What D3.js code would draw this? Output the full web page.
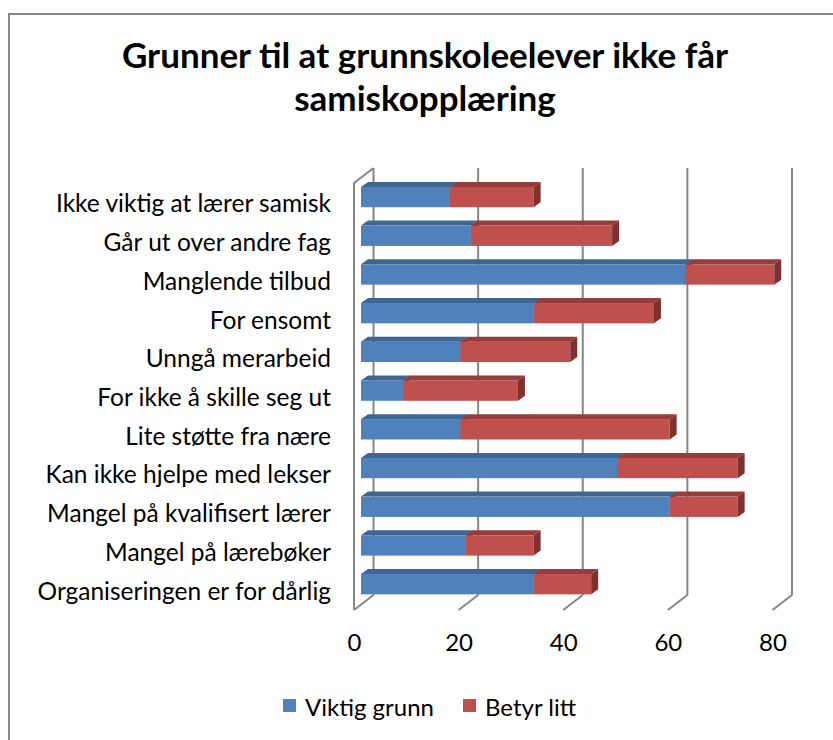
<!DOCTYPE html>
<html>
<head>
<meta charset="utf-8">
<script src="https://cdnjs.cloudflare.com/ajax/libs/d3/7.8.5/d3.min.js"></script>
<style>
  body { margin: 0; background: #fff; }
  svg { display: block; }
  text { font-family: Lato, "Open Sans", sans-serif; fill: #000; }
</style>
</head>
<body>
<script>
// data
var categories = [
  "Ikke viktig at lærer samisk",
  "Går ut over andre fag",
  "Manglende tilbud",
  "For ensomt",
  "Unngå merarbeid",
  "For ikke å skille seg ut",
  "Lite støtte fra nære",
  "Kan ikke hjelpe med lekser",
  "Mangel på kvalifisert lærer",
  "Mangel på lærebøker",
  "Organiseringen er for dårlig"
]
var viktig = [17, 21, 62, 33, 19, 8, 19, 49, 59, 20, 33]
var betyr  = [16, 27, 17, 23, 21, 22, 40, 23, 13, 13, 11]
var seriesNames = ["Viktig grunn", "Betyr litt"]
var xTicks = [0, 20, 40, 60, 80]

var W = 833, H = 740

var colors = {
  front: ["#4f81bd", "#c0504d"],
  top:   ["#3e6693", "#943d3b"],
  side:  ["#34557c", "#7d3230"]
}

var svg = d3.select("body").append("svg")
  .attr("width", W)
  .attr("height", H)

// outer border (only top and left edge show in the picture)
svg.append("rect")
  .attr("x", 9).attr("y", 14)
  .attr("width", W).attr("height", H)
  .attr("fill", "none")
  .attr("stroke", "#888")
  .attr("stroke-width", 2)

// title
var title = svg.append("text")
  .attr("text-anchor", "middle")
  .style("font-weight", "bold")
  .style("font-size", "35px")
title.append("tspan").attr("x", 425).attr("y", 68).text("Grunner til at grunnskoleelever ikke får")
title.append("tspan").attr("x", 425).attr("y", 111).text("samiskopplæring")

// 3d geometry: front plane + offsets to the back wall
var backDx = 19.5, backDy = -15
var barDx = 7, barDy = -5   // bar front face offset, and bar depth

var x = d3.scaleLinear().domain([0, 80]).range([354, 772.5])
var y = d3.scaleBand().domain(categories).range([183, 610])
  .paddingInner(0.43).paddingOuter(0.23)

var floorY = 610
var gridColor = "#868686"

// back wall gridlines
svg.append("g").selectAll("line").data(xTicks).enter().append("line")
  .attr("x1", function(d){ return x(d) + backDx })
  .attr("x2", function(d){ return x(d) + backDx })
  .attr("y1", 183 + backDy)
  .attr("y2", floorY + backDy)
  .attr("stroke", gridColor)
  .attr("stroke-width", 2)

// floor lines
svg.append("g").selectAll("line").data(xTicks).enter().append("line")
  .attr("x1", function(d){ return x(d) + backDx })
  .attr("y1", floorY + backDy)
  .attr("x2", function(d){ return x(d) })
  .attr("y2", floorY)
  .attr("stroke", gridColor)
  .attr("stroke-width", 2)

// left wall
svg.append("path")
  .attr("d", "M" + x(0) + "," + floorY + "L" + x(0) + ",183L" + (x(0) + backDx) + "," + (183 + backDy))
  .attr("fill", "none")
  .attr("stroke", gridColor)
  .attr("stroke-width", 2)

// stacked bars
var rows = categories.map(function(c, i){
  return [
    {cat: c, s: 0, x0: 0, x1: viktig[i]},
    {cat: c, s: 1, x0: viktig[i], x1: viktig[i] + betyr[i]}
  ]
})

function pts(a){ return a.map(function(p){ return p.join(",") }).join(" ") }

var bars = svg.append("g")
rows.forEach(function(segs){
  segs.forEach(function(d){
    var fx0 = x(d.x0) + barDx, fx1 = x(d.x1) + barDx
    var fy = y(d.cat) + barDy, h = y.bandwidth() * 0.92
    var g = bars.append("g")
    // front face
    g.append("rect")
      .attr("x", fx0).attr("y", fy)
      .attr("width", fx1 - fx0).attr("height", h)
      .attr("fill", colors.front[d.s])
    // top face
    g.append("polygon")
      .attr("points", pts([[fx0, fy], [fx0 + barDx, fy + barDy], [fx1 + barDx, fy + barDy], [fx1, fy]]))
      .attr("fill", colors.top[d.s])
    // side face
    g.append("polygon")
      .attr("points", pts([[fx1, fy], [fx1 + barDx, fy + barDy], [fx1 + barDx, fy + h + barDy], [fx1, fy + h]]))
      .attr("fill", colors.side[d.s])
  })
})

// category labels
svg.append("g").selectAll("text").data(categories).enter().append("text")
  .attr("x", 331)
  .attr("y", function(d){ return y(d) + y.bandwidth() / 2 })
  .attr("text-anchor", "end")
  .attr("dominant-baseline", "central")
  .style("font-size", "24.5px")
  .text(function(d){ return d })

// x axis labels
var axis = svg.append("g")
  .attr("transform", "translate(0,631)")
  .call(d3.axisBottom(x).tickValues(xTicks).tickSize(0).tickPadding(3))
axis.select(".domain").remove()
axis.selectAll("text")
  .style("font-size", "24px")
  .style("font-family", "Lato, sans-serif")
  .attr("fill", "#000")

// legend
var legend = svg.append("g").selectAll("g").data(seriesNames).enter().append("g")
  .attr("transform", function(d, i){ return "translate(" + [283, 463][i] + ",699)" })
legend.append("rect")
  .attr("width", 13).attr("height", 13)
  .attr("fill", function(d, i){ return colors.front[i] })
legend.append("text")
  .attr("x", 22).attr("y", 7)
  .attr("dominant-baseline", "central")
  .style("font-size", "24px")
  .text(function(d){ return d })
</script>
</body>
</html>
